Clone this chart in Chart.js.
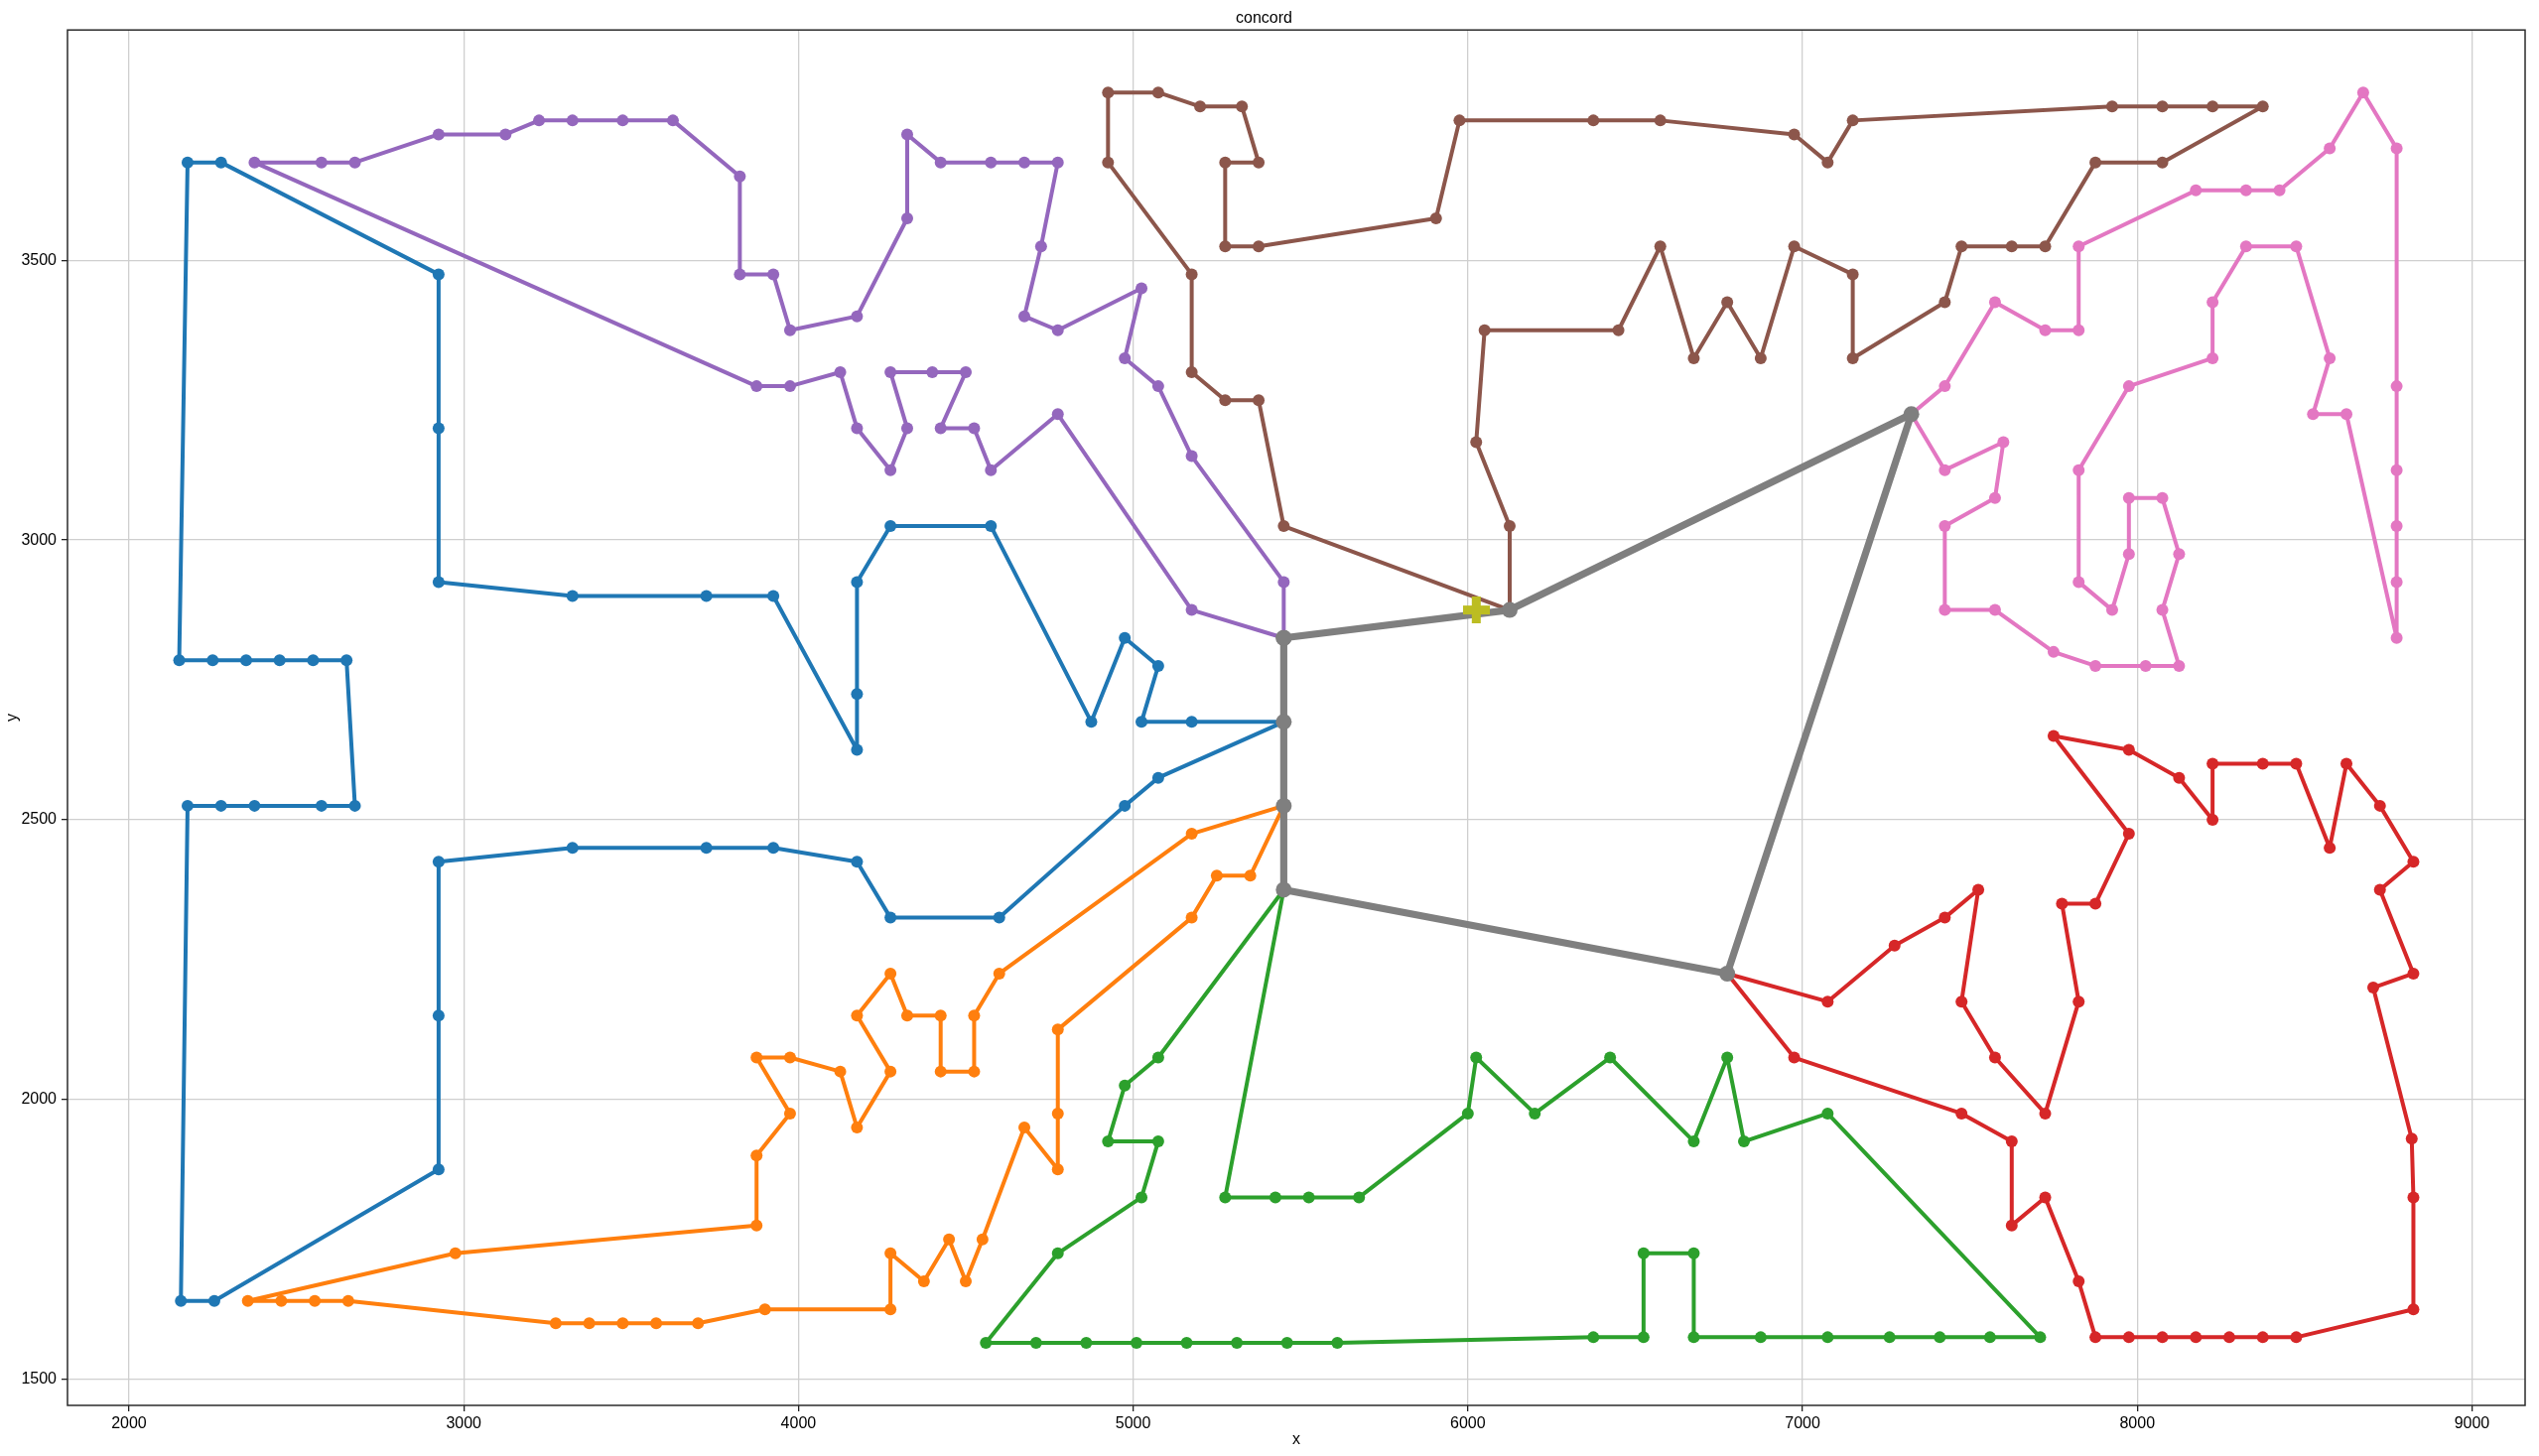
<!DOCTYPE html>
<html>
<head>
<meta charset="utf-8">
<script src="https://cdn.jsdelivr.net/npm/chart.js@4.4.1/dist/chart.umd.min.js"></script>
<style>
html,body{margin:0;padding:0;background:#fff;}
canvas{display:block;}
</style>
</head>
<body>
<canvas id="c" width="2558" height="1467"></canvas>
<script>
// ---------------- data ----------------
const chartTitle = 'concord';
const xAxisLabel = 'x';
const yAxisLabel = 'y';
const xTickValues = [2000, 3000, 4000, 5000, 6000, 7000, 8000, 9000];
const xTickLabels = ['2000', '3000', '4000', '5000', '6000', '7000', '8000', '9000'];
const yTickValues = [1500, 2000, 2500, 3000, 3500];
const yTickLabels = ['1500', '2000', '2500', '3000', '3500'];

const route1X = [5450,5175,5025,5075,4975,4875,4575,4275,4175,4175,4175,3925,3725,3325,2925,2925,2925,2275,2175,2150,2250,2350,2450,2550,2650,2675,2575,2375,2275,2175,2155,2255,2925,2925,2925,3325,3725,3925,4175,4275,4600,4975,5075,5450];
const route1Y = [2675,2675,2675,2775,2825,2675,3025,3025,2925,2725,2625,2900,2900,2900,2925,3200,3475,3675,3675,2785,2785,2785,2785,2785,2785,2525,2525,2525,2525,2525,1640,1640,1875,2150,2425,2450,2450,2450,2425,2325,2325,2525,2575,2675];

const route2X = [5450,5175,4600,4525,4525,4425,4425,4325,4275,4175,4275,4175,4125,3975,3875,3975,3875,3875,2975,2355,2455,2555,2655,3275,3375,3475,3575,3700,3900,4275,4275,4375,4450,4500,4550,4675,4775,4775,4775,5175,5250,5350,5450];
const route2Y = [2525,2475,2225,2150,2050,2050,2150,2150,2225,2150,2050,1950,2050,2075,2075,1975,1900,1775,1725,1640,1640,1640,1640,1600,1600,1600,1600,1600,1625,1625,1725,1675,1750,1675,1750,1950,1875,1975,2125,2325,2400,2400,2525];

const route3X = [5450,5075,4975,4925,5075,5025,4775,4560,4710,4860,5010,5160,5310,5460,5610,6375,6525,6525,6675,6675,6875,7075,7260,7410,7560,7710,7075,6825,6775,6675,6425,6200,6025,6000,5675,5525,5425,5275,5450];
const route3Y = [2375,2075,2025,1925,1925,1825,1725,1565,1565,1565,1565,1565,1565,1565,1565,1575,1575,1725,1725,1575,1575,1575,1575,1575,1575,1575,1975,1925,2075,1925,2075,1975,2075,1975,1825,1825,1825,1825,2375];

const route4X = [6775,7075,7275,7425,7525,7475,7575,7725,7825,7775,7875,7975,7750,7975,8125,8225,8225,8375,8475,8575,8625,8725,8825,8725,8825,8705,8820,8825,8825,8475,8375,8275,8175,8075,7975,7875,7825,7725,7625,7625,7475,6975,6775];
const route4Y = [2225,2175,2275,2325,2375,2175,2075,1975,2175,2350,2350,2475,2650,2625,2575,2500,2600,2600,2600,2450,2600,2525,2425,2375,2225,2200,1930,1825,1625,1575,1575,1575,1575,1575,1575,1575,1675,1825,1775,1925,1975,2075,2225];

const route5X = [5450,5450,5175,5075,4975,5025,4775,4675,4725,4775,4675,4575,4425,4325,4325,4175,3975,3925,3825,3825,3625,3475,3325,3225,3125,2925,2675,2575,2375,3875,3975,4125,4175,4275,4325,4275,4400,4500,4425,4525,4575,4775,5175,5450];
const route5Y = [2825,2925,3150,3275,3325,3450,3375,3400,3525,3675,3675,3675,3675,3725,3575,3400,3375,3475,3475,3650,3750,3750,3750,3750,3725,3725,3675,3675,3675,3275,3275,3300,3200,3125,3200,3300,3300,3300,3200,3200,3125,3225,2875,2825];

const route6X = [6125,5450,5375,5275,5175,5175,4925,4925,5075,5200,5325,5375,5275,5275,5375,5905,5975,6375,6575,6975,7075,7150,7925,8075,8225,8375,8075,7875,7725,7625,7475,7425,7150,7150,6975,6875,6775,6675,6575,6450,6050,6025,6125,6125];
const route6Y = [2875,3025,3250,3250,3300,3475,3675,3800,3800,3775,3775,3675,3675,3525,3525,3575,3750,3750,3750,3725,3675,3750,3775,3775,3775,3775,3675,3675,3525,3525,3525,3425,3325,3475,3525,3325,3425,3325,3525,3375,3375,3175,3025,2875];

const route7X = [7325,7425,7575,7725,7825,7825,8175,8325,8425,8575,8675,8775,8775,8775,8775,8775,8775,8625,8525,8575,8475,8325,8225,8225,7975,7825,7825,7925,7975,7975,8075,8125,8075,8125,8025,7875,7750,7575,7425,7425,7575,7600,7425,7325];
const route7Y = [3225,3275,3425,3375,3375,3525,3625,3625,3625,3700,3800,3700,3275,3125,3025,2925,2825,3225,3225,3325,3525,3525,3425,3325,3275,3125,2925,2875,2975,3075,3075,2975,2875,2775,2775,2775,2800,2875,2875,3025,3075,3175,3125,3225];

const hubX = [5450,6125,7325,6775,5450,5450,5450,5450];
const hubY = [2825,2875,3225,2225,2375,2525,2675,2825];

const depotX = [6025];
const depotY = [2875];

// ---------------- styling ----------------
const FONT = '"Liberation Sans", Arial, Helvetica, sans-serif';
const series = [
  {xs: route1X, ys: route1Y, color: '#1f77b4', lw: 4, r: 6},
  {xs: route2X, ys: route2Y, color: '#ff7f0e', lw: 4, r: 6},
  {xs: route3X, ys: route3Y, color: '#2ca02c', lw: 4, r: 6},
  {xs: route4X, ys: route4Y, color: '#d62728', lw: 4, r: 6},
  {xs: route5X, ys: route5Y, color: '#9467bd', lw: 4, r: 6},
  {xs: route6X, ys: route6Y, color: '#8c564b', lw: 4, r: 6},
  {xs: route7X, ys: route7Y, color: '#e377c2', lw: 4, r: 6},
  {xs: hubX, ys: hubY, color: '#7f7f7f', lw: 7.2, r: 8},
];

function plusMarker(size, arm, color) {
  const c = document.createElement('canvas');
  c.width = size; c.height = size;
  const g = c.getContext('2d');
  g.fillStyle = color;
  const o = (size - arm) / 2;
  g.fillRect(o, 0, arm, size);
  g.fillRect(0, o, size, arm);
  return c;
}

const toPts = (xs, ys) => xs.map((v, i) => ({x: v, y: ys[i]}));

const datasets = series.map((s, i) => ({
  data: toPts(s.xs, s.ys),
  showLine: true,
  borderColor: s.color,
  backgroundColor: s.color,
  borderWidth: s.lw,
  borderJoinStyle: 'round',
  borderCapStyle: 'round',
  pointRadius: s.r,
  pointHoverRadius: s.r,
  pointBackgroundColor: s.color,
  pointBorderColor: s.color,
  pointBorderWidth: 0,
  order: 20 - i
}));
datasets.push({
  data: toPts(depotX, depotY),
  showLine: false,
  pointStyle: plusMarker(27, 9, '#bcbd22'),
  pointRadius: 13,
  backgroundColor: '#bcbd22',
  borderColor: '#bcbd22',
  order: 1
});

// axis limits with 5% margins (matplotlib style)
const allX = [].concat(...series.map(s => s.xs), depotX);
const allY = [].concat(...series.map(s => s.ys), depotY);
const xLo = Math.min(...allX), xHi = Math.max(...allX);
const yLo = Math.min(...allY), yHi = Math.max(...allY);
const xMin = xLo - 0.05 * (xHi - xLo), xMax = xHi + 0.05 * (xHi - xLo);
const yMin = yLo - 0.05 * (yHi - yLo), yMax = yHi + 0.05 * (yHi - yLo);

const framePlugin = {
  id: 'frame',
  afterDatasetsDraw(chart) {
    const {ctx, chartArea: a} = chart;
    ctx.save();
    ctx.strokeStyle = '#2b2b2b';
    ctx.lineWidth = 1.5;
    ctx.strokeRect(a.left, a.top, a.right - a.left, a.bottom - a.top);
    ctx.restore();
  }
};

new Chart(document.getElementById('c').getContext('2d'), {
  type: 'scatter',
  data: {datasets},
  options: {
    responsive: false,
    animation: false,
    devicePixelRatio: 1,
    events: [],
    layout: {padding: {left: 0, right: 11, top: 0, bottom: 0}},
    plugins: {
      legend: {display: false},
      tooltip: {enabled: false},
      title: {
        display: true, text: chartTitle, color: '#000',
        font: {family: FONT, size: 16, weight: 'normal'},
        padding: {top: 9, bottom: 2}
      }
    },
    scales: {
      x: {
        type: 'linear', position: 'bottom', min: xMin, max: xMax,
        afterBuildTicks: s => { s.ticks = xTickValues.map(v => ({value: v})); },
        afterFit: s => { s.height = 51; },
        ticks: {
          font: {family: FONT, size: 16}, color: '#000', padding: 3,
          maxRotation: 0, autoSkip: false,
          callback: (v) => xTickLabels[xTickValues.indexOf(v)]
        },
        grid: {color: '#cfcfcf', lineWidth: 1.3, tickColor: '#222', tickLength: 6, tickWidth: 1.3},
        border: {display: false},
        title: {display: true, text: xAxisLabel, color: '#000', font: {family: FONT, size: 16}, padding: {top: 0, bottom: 7}}
      },
      y: {
        type: 'linear', position: 'left', min: yMin, max: yMax,
        afterBuildTicks: s => { s.ticks = yTickValues.map(v => ({value: v})); },
        afterFit: s => { s.width = 68; },
        ticks: {
          font: {family: FONT, size: 16}, color: '#000', padding: 5,
          autoSkip: false,
          callback: (v) => yTickLabels[yTickValues.indexOf(v)]
        },
        grid: {color: '#cfcfcf', lineWidth: 1.3, tickColor: '#222', tickLength: 6, tickWidth: 1.3},
        border: {display: false},
        title: {display: true, text: yAxisLabel, color: '#000', font: {family: FONT, size: 16}, padding: {top: 3, bottom: 0}}
      }
    }
  },
  plugins: [framePlugin]
});
</script>
</body>
</html>
